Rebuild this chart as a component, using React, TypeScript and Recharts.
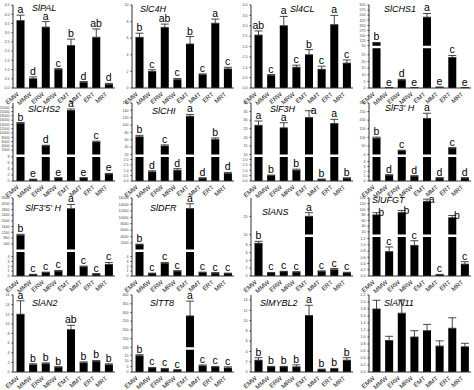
import { ComposedChart, Bar, Line, XAxis, YAxis, ErrorBar, LabelList, ReferenceLine } from 'recharts';

// sample groups, same order in every panel
const groups = ['EMW', 'MMW', 'ERW', 'MRW', 'EMT', 'MMT', 'ERT', 'MRT'];

// SlPAL
const palValues = [3.65, 0.5, 3.3, 1.0, 2.3, 0.3, 2.75, 0.2];
const palErrors = [0.3, 0.1, 0.3, 0.05, 0.35, 0.05, 0.45, 0.05];
const palLetters = ['a', 'd', 'a', 'c', 'b', 'd', 'ab', 'd'];
const palTicks = ['0.0', '0.5', '1.0', '1.5', '2.0', '2.5', '3.0', '3.5', '4.0', '4.5'];

// SlC4H
const c4hValues = [6.1, 2.0, 7.3, 1.0, 5.3, 1.6, 7.8, 2.3];
const c4hErrors = [0.5, 0.2, 0.4, 0.15, 0.9, 0.1, 0.5, 0.2];
const c4hLetters = ['b', 'c', 'ab', 'c', 'b', 'c', 'a', 'c'];
const c4hTicks = ['0', '2', '4', '6', '8', '10'];

// Sl4CL
const cl4Values = [2.55, 0.6, 3.0, 1.0, 1.6, 0.9, 3.05, 1.2];
const cl4Errors = [0.2, 0.05, 0.45, 0.1, 0.25, 0.15, 0.45, 0.15];
const cl4Letters = ['ab', 'c', 'a', 'c', 'b', 'c', 'a', 'c'];
const cl4Ticks = ['0.0', '0.5', '1.0', '1.5', '2.0', '2.5', '3.0', '3.5', '4.0'];

// SlCHS1 (broken axis)
const chs1Values = [92, 0.3, 6, 0.3, 470, 0.6, 23, 0.3];
const chs1Errors = [5, 0.05, 0.5, 0.05, 55, 0.05, 1.5, 0.05];
const chs1Letters = ['b', 'e', 'd', 'e', 'a', 'e', 'c', 'e'];
const chs1LowTicks = ['0', '5', '10', '15', '20', '25'];
const chs1HighTicks = ['50', '125', '200', '275', '350', '425', '500', '575', '650'];

// SlCHS2 (broken axis)
const chs2Values = [14500, 0.5, 4000, 1.0, 20500, 1.0, 5800, 2.3];
const chs2Errors = [400, 0.1, 300, 0.1, 700, 0.1, 400, 0.2];
const chs2Letters = ['b', 'e', 'd', 'e', 'a', 'e', 'c', 'e'];
const chs2LowTicks = ['0', '2', '4', '6', '8'];
const chs2HighTicks = ['2000', '4000', '6000', '8000', '10000', '12000', '14000', '16000', '18000', '20000', '22000'];

// SlCHI (broken axis)
const chiValues = [68, 0.85, 43, 1.0, 124, 0.25, 61, 0.7];
const chiErrors = [4, 0.1, 3, 0.15, 5, 0.05, 4, 0.1];
const chiLetters = ['b', 'd', 'c', 'd', 'a', 'd', 'b', 'd'];
const chiLowTicks = ['0.0', '0.5', '1.0', '1.5', '2.0'];
const chiHighTicks = ['20', '40', '60', '80', '100', '120', '140', '160'];

// SlF3H (broken axis)
const f3hValues = [27, 0.5, 25.5, 1.0, 31.5, 0.15, 28, 0.25];
const f3hErrors = [2.5, 0.05, 3, 0.1, 4, 0.03, 2.5, 0.05];
const f3hLetters = ['a', 'b', 'a', 'b', 'a', 'b', 'a', 'b'];
const f3hSide = [0, 0, 0, 0, 1, 0, 0, 0];
const f3hLowTicks = ['0.0', '0.5', '1.0', '1.5', '2.0'];
const f3hHighTicks = ['10', '15', '20', '25', '30', '35', '40'];

// SlF3'H (broken axis)
const f3pValues = [95, 1.2, 22, 1.0, 210, 0.6, 37, 0.6];
const f3pErrors = [6, 0.1, 3, 0.1, 30, 0.1, 3, 0.1];
const f3pLetters = ['b', 'd', 'c', 'd', 'a', 'd', 'c', 'd'];
const f3pLowTicks = ['0', '1', '2', '3', '4'];
const f3pHighTicks = ['0', '50', '100', '150', '200', '250', '300'];

// SlF3'5'H (broken axis)
const f35Values = [1000, 0.3, 0.7, 1.0, 2850, 1.9, 0.4, 2.4];
const f35Errors = [60, 0.05, 0.1, 0.15, 300, 0.15, 0.1, 0.4];
const f35Letters = ['b', 'c', 'c', 'c', 'a', 'c', 'c', 'c'];
const f35LowTicks = ['0', '1', '2', '3', '4'];
const f35HighTicks = ['400', '800', '1200', '1600', '2000', '2400', '2800', '3200', '3600'];

// SlDFR (broken axis)
const dfrValues = [1500, 0.5, 2.6, 1.0, 12700, 0.7, 0.6, 0.5];
const dfrErrors = [150, 0.1, 0.2, 0.1, 1500, 0.1, 0.1, 0.1];
const dfrLetters = ['b', 'c', 'c', 'c', 'a', 'c', 'c', 'c'];
const dfrLowTicks = ['0', '1', '2', '3', '4'];
const dfrHighTicks = ['2000', '4000', '6000', '8000', '10000', '12000', '14000', '16000'];

// SlANS (broken axis)
const ansValues = [8.4, 0.8, 1.1, 1.0, 25, 1.2, 1.6, 0.8];
const ansErrors = [0.5, 0.1, 0.1, 0.1, 3, 0.1, 0.3, 0.15];
const ansLetters = ['b', 'c', 'c', 'c', 'a', 'c', 'c', 'c'];
const ansLowTicks = ['0', '2', '4', '6', '8'];
const ansHighTicks = ['10', '25'];

// SlUFGT (broken axis)
const ufgtValues = [80, 0.78, 88, 0.98, 128, 0.04, 70, 0.38];
const ufgtErrors = [8, 0.15, 8, 0.15, 8, 0.01, 8, 0.08];
const ufgtLetters = ['b', 'c', 'b', 'c', 'a', 'c', 'b', 'c'];
const ufgtSide = [1, 0, 1, 0, 1, 0, 1, 0];
const ufgtLowTicks = ['0.0', '0.2', '0.4', '0.6', '0.8', '1.0', '1.2'];
const ufgtHighTicks = ['20', '40', '60', '80', '100', '120', '140'];

// SlAN2
const an2Values = [12, 1.5, 1.7, 1.0, 8.8, 1.9, 2.2, 1.5];
const an2Errors = [2.8, 0.2, 0.2, 0.1, 0.9, 0.2, 0.2, 0.2];
const an2Letters = ['a', 'b', 'b', 'b', 'ab', 'b', 'b', 'b'];
const an2Ticks = ['0', '2', '4', '6', '8', '10', '12', '14', '16'];

// SlTT8 (broken axis)
const tt8Values = [14.5, 3.6, 2.7, 1.8, 280, 5.5, 4.5, 3.6];
const tt8Errors = [1, 0.5, 0.5, 0.3, 85, 0.8, 0.5, 1];
const tt8Letters = ['b', 'c', 'c', 'c', 'a', 'c', 'c', 'c'];
const tt8LowTicks = ['0', '5', '10', '15'];
const tt8HighTicks = ['100', '150', '200', '250', '300', '350', '400'];

// SlMYBL2
const mybValues = [2.3, 1.0, 1.0, 1.0, 11.0, 0.5, 0.6, 2.3];
const mybErrors = [0.5, 0.1, 0.1, 0.4, 2.0, 0.05, 0.1, 0.5];
const mybLetters = ['b', 'b', 'b', 'b', 'a', 'b', 'b', 'b'];
const mybTicks = ['0', '2', '4', '6', '8', '10', '12', '14'];

// SlAN11
const an11Values = [1.8, 0.9, 1.68, 1.0, 1.18, 0.74, 1.25, 0.72];
const an11Errors = [0.25, 0.12, 0.38, 0.18, 0.18, 0.15, 0.3, 0.1];
const an11Letters = ['', '', '', '', '', '', '', ''];
const an11Ticks = ['0.0', '0.2', '0.4', '0.6', '0.8', '1.0', '1.2', '1.4', '1.6', '1.8', '2.0', '2.2'];

type Panel = {
  title: string;
  values: number[];
  errors: number[];
  letters: string[];
  side?: number[];
  lowMax: number;
  lowTicks: string[];
  lowFrac: number;
  hiMin?: number;
  hiMax?: number;
  hiTicks?: string[];
};

const panels: Panel[] = [
  { title: 'SlPAL', values: palValues, errors: palErrors, letters: palLetters, lowMax: 4.5, lowTicks: palTicks, lowFrac: 1 },
  { title: 'SlC4H', values: c4hValues, errors: c4hErrors, letters: c4hLetters, lowMax: 10, lowTicks: c4hTicks, lowFrac: 1 },
  { title: 'Sl4CL', values: cl4Values, errors: cl4Errors, letters: cl4Letters, lowMax: 4.0, lowTicks: cl4Ticks, lowFrac: 1 },
  { title: 'SlCHS1', values: chs1Values, errors: chs1Errors, letters: chs1Letters, lowMax: 30, lowTicks: chs1LowTicks, lowFrac: 0.48, hiMin: 50, hiMax: 650, hiTicks: chs1HighTicks },
  { title: 'SlCHS2', values: chs2Values, errors: chs2Errors, letters: chs2Letters, lowMax: 8, lowTicks: chs2LowTicks, lowFrac: 0.31, hiMin: 0, hiMax: 24000, hiTicks: chs2HighTicks },
  { title: 'SlCHI', values: chiValues, errors: chiErrors, letters: chiLetters, lowMax: 2.25, lowTicks: chiLowTicks, lowFrac: 0.31, hiMin: 20, hiMax: 160, hiTicks: chiHighTicks },
  { title: 'SlF3H', values: f3hValues, errors: f3hErrors, letters: f3hLetters, side: f3hSide, lowMax: 2.25, lowTicks: f3hLowTicks, lowFrac: 0.31, hiMin: 10, hiMax: 40, hiTicks: f3hHighTicks },
  { title: "SlF3' H", values: f3pValues, errors: f3pErrors, letters: f3pLetters, lowMax: 5, lowTicks: f3pLowTicks, lowFrac: 0.31, hiMin: 0, hiMax: 300, hiTicks: f3pHighTicks },
  { title: "SlF3'5' H", values: f35Values, errors: f35Errors, letters: f35Letters, lowMax: 5, lowTicks: f35LowTicks, lowFrac: 0.31, hiMin: 0, hiMax: 3600, hiTicks: f35HighTicks },
  { title: 'SlDFR', values: dfrValues, errors: dfrErrors, letters: dfrLetters, lowMax: 5, lowTicks: dfrLowTicks, lowFrac: 0.31, hiMin: 0, hiMax: 16000, hiTicks: dfrHighTicks },
  { title: 'SlANS', values: ansValues, errors: ansErrors, letters: ansLetters, lowMax: 10, lowTicks: ansLowTicks, lowFrac: 0.5, hiMin: 10, hiMax: 40, hiTicks: ansHighTicks },
  { title: 'SlUFGT', values: ufgtValues, errors: ufgtErrors, letters: ufgtLetters, side: ufgtSide, lowMax: 1.25, lowTicks: ufgtLowTicks, lowFrac: 0.5, hiMin: 10, hiMax: 140, hiTicks: ufgtHighTicks },
  { title: 'SlAN2', values: an2Values, errors: an2Errors, letters: an2Letters, lowMax: 16, lowTicks: an2Ticks, lowFrac: 1 },
  { title: 'SlTT8', values: tt8Values, errors: tt8Errors, letters: tt8Letters, lowMax: 20, lowTicks: tt8LowTicks, lowFrac: 0.29, hiMin: 100, hiMax: 400, hiTicks: tt8HighTicks },
  { title: 'SlMYBL2', values: mybValues, errors: mybErrors, letters: mybLetters, lowMax: 15, lowTicks: mybTicks, lowFrac: 1 },
  { title: 'SlAN11', values: an11Values, errors: an11Errors, letters: an11Letters, lowMax: 2.2, lowTicks: an11Ticks, lowFrac: 1 },
];

// layout
const ROW_TOP = [5, 103, 198, 295];
const ROW_BOTTOM = [88, 181, 276, 372];
const COL_LEFT = [0, 119, 238, 356];
const TITLE_POS = [
  [32, 8], [21, 9], [52, 9], [28, 9],
  [28, 109], [33, 111], [32, 109], [29, 108],
  [25, 208], [31, 208], [24, 212], [16, 200],
  [32, 303], [31, 303], [22, 303], [28, 303],
];
const GAP = 3;
const FONT = '"Liberation Sans", Arial, sans-serif';

// piecewise mapping for the broken y axes (display domain 0..100)
const toDisplay = (p: Panel, v: number) => {
  const lowTop = p.lowFrac * 100;
  if (p.lowFrac >= 1 || v <= p.lowMax) return (Math.min(v, p.lowMax) / p.lowMax) * lowTop;
  const hiMin = p.hiMin ?? p.lowMax;
  const hiMax = p.hiMax ?? p.lowMax;
  if (v < hiMin) return lowTop + GAP / 2;
  return lowTop + GAP + ((v - hiMin) / (hiMax - hiMin)) * (100 - lowTop - GAP);
};

const GroupTick = (props: any) => {
  const { x, y, payload } = props;
  return (
    <g transform={`translate(${x - 1},${y + 5}) rotate(-40)`}>
      <text textAnchor="end" fontSize={6.2} fill="#111" fontFamily={FONT}>{payload.value}</text>
    </g>
  );
};

const PanelChart = ({ p, idx }: { p: Panel; idx: number }) => {
  const row = Math.floor(idx / 4);
  const col = idx % 4;
  const plotTop = ROW_TOP[row];
  const plotBottom = ROW_BOTTOM[row];
  const topMargin = 12;
  const axisH = 26;
  const height = plotBottom - plotTop + topMargin + axisH;
  const width = 118;

  const data = groups.map((g, i) => {
    const v = p.values[i];
    const e = p.errors[i];
    const d = toDisplay(p, v);
    const t = toDisplay(p, v + e);
    const side = p.side ? p.side[i] : 0;
    return {
      group: g,
      bar: d,
      err: [0, Math.max(t - d, 0)],
      top: t,
      letterTop: side ? '' : p.letters[i],
      letterSide: side ? p.letters[i] : '',
    };
  });

  const ticks: number[] = [];
  const labels: string[] = [];
  p.lowTicks.forEach((s) => {
    ticks.push(toDisplay(p, Number(s)));
    labels.push(s);
  });
  (p.hiTicks || []).forEach((s) => {
    const v = Number(s);
    ticks.push(v <= (p.hiMin ?? 0) ? p.lowFrac * 100 + GAP : toDisplay(p, v));
    labels.push(s);
  });
  const fmt = (v: number) => {
    let best = 0;
    ticks.forEach((t, i) => {
      if (Math.abs(t - v) < Math.abs(ticks[best] - v)) best = i;
    });
    return labels[best];
  };

  const [tx, ty] = TITLE_POS[idx];

  return (
    <div style={{ position: 'absolute', left: COL_LEFT[col], top: plotTop - topMargin, width, height }}>
      <ComposedChart
        width={width}
        height={height}
        data={data}
        margin={{ top: topMargin, right: 3, left: 0, bottom: 0 }}
        barCategoryGap="20%"
      >
        <XAxis
          dataKey="group"
          interval={0}
          tickLine={false}
          tickSize={0}
          height={axisH}
          stroke="#333"
          padding={{ left: 1, right: 0 }}
          tick={<GroupTick />}
        />
        <YAxis
          type="number"
          domain={[0, 100]}
          ticks={ticks}
          interval={0}
          tickFormatter={fmt}
          width={13}
          tickSize={1.5}
          stroke="#333"
          tick={{ fontSize: 3.6, fill: '#444', fontFamily: FONT }}
        />
        <Bar dataKey="bar" fill="#000" isAnimationActive={false}>
          <ErrorBar dataKey="err" width={4} stroke="#333" strokeWidth={0.9} isAnimationActive={false} />
        </Bar>
        {p.lowFrac < 1 && (
          <ReferenceLine y={p.lowFrac * 100 + GAP / 2} stroke="#fff" strokeWidth={2.5} />
        )}
        <Line dataKey="top" stroke="none" dot={false} activeDot={false} isAnimationActive={false}>
          <LabelList dataKey="letterTop" position="top" offset={2} fontSize={10.5} fill="#000" fontFamily={FONT} />
        </Line>
        <Line dataKey="top" stroke="none" dot={false} activeDot={false} isAnimationActive={false}>
          <LabelList dataKey="letterSide" position="right" offset={2} fontSize={10.5} fill="#000" fontFamily={FONT} />
        </Line>
      </ComposedChart>
      <div
        style={{
          position: 'absolute',
          left: tx,
          top: ty - (plotTop - topMargin),
          transform: 'translateY(-50%)',
          fontFamily: FONT,
          fontStyle: 'italic',
          fontSize: 9,
          lineHeight: 1,
          whiteSpace: 'pre',
          color: '#000',
        }}
      >
        {p.title}
      </div>
    </div>
  );
};

export default function App() {
  return (
    <div style={{ position: 'absolute', left: 0, top: 0, width: 474, height: 390, background: '#fff', overflow: 'hidden' }}>
      {panels.map((p, i) => (
        <PanelChart key={p.title} p={p} idx={i} />
      ))}
    </div>
  );
}
